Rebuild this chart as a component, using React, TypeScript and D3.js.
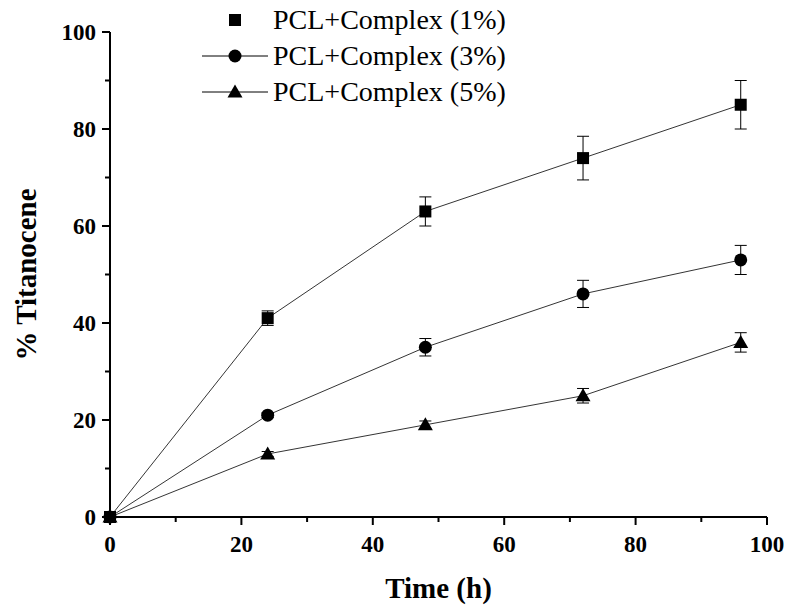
import * as d3 from 'd3';

const times = [0, 24, 48, 72, 96];
const s1 = [0, 41, 63, 74, 85];
const e1 = [0, 1.5, 3, 4.5, 5];
const s3 = [0, 21, 35, 46, 53];
const e3 = [0, 0.5, 1.8, 2.8, 3];
const s5 = [0, 13, 19, 25, 36];
const e5 = [0, 0.5, 0.8, 1.5, 2];
const labels = ['PCL+Complex (1%)', 'PCL+Complex (3%)', 'PCL+Complex (5%)'];
const xTicks = [0, 20, 40, 60, 80, 100];
const yTicks = [0, 20, 40, 60, 80, 100];

const W = 792, H = 607;
const m = { l: 110, r: 25, t: 32, b: 90 };
const x = d3.scaleLinear().domain([0, 100]).range([m.l, W - m.r]);
const y = d3.scaleLinear().domain([0, 100]).range([H - m.b, m.t]);
const font = '"Liberation Serif", "Times New Roman", serif';

function Marker({ kind, cx, cy }: { kind: string; cx: number; cy: number }) {
  if (kind === 'square') return <rect x={cx - 6} y={cy - 6} width={12} height={12} fill="#000" />;
  if (kind === 'circle') return <circle cx={cx} cy={cy} r={6.5} fill="#000" />;
  return <path d={`M${cx},${cy - 7.5}L${cx + 7.5},${cy + 5.5}L${cx - 7.5},${cy + 5.5}Z`} fill="#000" />;
}

export default function App() {
  const series = [
    { v: s1, e: e1, kind: 'square' },
    { v: s3, e: e3, kind: 'circle' },
    { v: s5, e: e5, kind: 'triangle' },
  ];
  const line = d3.line<number>().x((_, i) => x(times[i])).y(d => y(d));
  const minorX = d3.range(10, 100, 20);
  const minorY = d3.range(10, 100, 20);
  return (
    <svg width={W} height={H} style={{ position: 'absolute', left: 0, top: 0, background: '#fff' }} fontFamily={font}>
      {series.map((s, k) => (
        <g key={k}>
          <path d={line(s.v) || ''} fill="none" stroke="#000" strokeWidth={0.8} />
          {s.v.map((v, i) => s.e[i] > 0 && (
            <g key={i} stroke="#000" strokeWidth={1}>
              <line x1={x(times[i])} x2={x(times[i])} y1={y(v - s.e[i])} y2={y(v + s.e[i])} />
              <line x1={x(times[i]) - 6} x2={x(times[i]) + 6} y1={y(v + s.e[i])} y2={y(v + s.e[i])} />
              <line x1={x(times[i]) - 6} x2={x(times[i]) + 6} y1={y(v - s.e[i])} y2={y(v - s.e[i])} />
            </g>
          ))}
          {s.v.map((v, i) => <Marker key={i} kind={s.kind} cx={x(times[i])} cy={y(v)} />)}
        </g>
      ))}
      <line x1={x(0)} x2={x(100)} y1={y(0)} y2={y(0)} stroke="#000" strokeWidth={2} />
      <line x1={x(0)} x2={x(0)} y1={y(0)} y2={y(100)} stroke="#000" strokeWidth={2} />
      {xTicks.map(t => (
        <g key={t}>
          <line x1={x(t)} x2={x(t)} y1={y(0)} y2={y(0) + 8} stroke="#000" strokeWidth={2} />
          <text x={x(t)} y={y(0) + 35} textAnchor="middle" fontSize={23} fontWeight="bold">{t}</text>
        </g>
      ))}
      {minorX.map(t => <line key={t} x1={x(t)} x2={x(t)} y1={y(0)} y2={y(0) + 5} stroke="#000" strokeWidth={2} />)}
      {yTicks.map(t => (
        <g key={t}>
          <line x1={x(0) - 8} x2={x(0)} y1={y(t)} y2={y(t)} stroke="#000" strokeWidth={2} />
          <text x={x(0) - 14} y={y(t) + 8} textAnchor="end" fontSize={23} fontWeight="bold">{t}</text>
        </g>
      ))}
      {minorY.map(t => <line key={t} x1={x(0) - 5} x2={x(0)} y1={y(t)} y2={y(t)} stroke="#000" strokeWidth={2} />)}
      <text x={(x(0) + x(100)) / 2} y={598} textAnchor="middle" fontSize={29} fontWeight="bold">Time (h)</text>
      <text transform={`translate(36,${(y(0) + y(100)) / 2}) rotate(-90)`} textAnchor="middle" fontSize={29} fontWeight="bold">% Titanocene</text>
      {series.map((s, k) => {
        const ly = 20 + k * 36;
        return (
          <g key={k}>
            {k > 0 && <line x1={202} x2={268} y1={ly} y2={ly} stroke="#000" strokeWidth={1} />}
            <Marker kind={s.kind} cx={235} cy={ly} />
            <text x={273} y={ly + 9} fontSize={28}>{labels[k]}</text>
          </g>
        );
      })}
    </svg>
  );
}
